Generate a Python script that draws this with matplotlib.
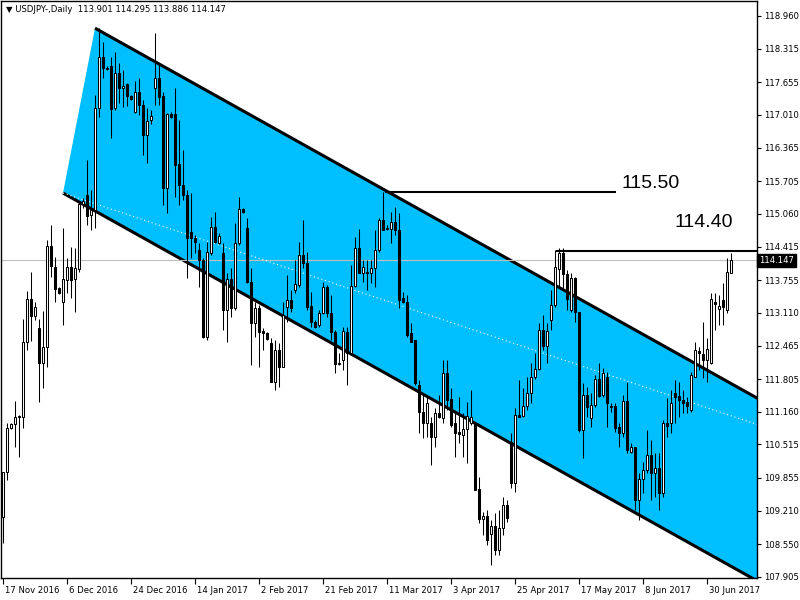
import matplotlib
matplotlib.use('Agg')
import matplotlib.pyplot as plt
from matplotlib.patches import Polygon
from matplotlib.transforms import blended_transform_factory, offset_copy
import numpy as np

# ---------------- data (USDJPY daily) ----------------
opens = [
    109.09, 109.97, 110.84, 110.92, 111.06, 111.06, 112.53, 113.38, 113.05, 112.81,
    112.12, 112.44, 114.43, 114.01, 113.60, 113.32, 113.76, 114.01, 113.78, 113.97,
    115.25, 115.43, 115.04, 115.14, 117.15, 118.15, 117.94, 117.97, 117.15, 117.84,
    117.54, 117.62, 117.38, 117.07, 117.46, 117.21, 116.61, 116.91, 117.54, 117.74,
    117.38, 115.57, 117.03, 117.03, 116.04, 115.63, 115.43, 114.70, 114.58, 114.35,
    114.15, 112.63, 114.29, 114.80, 114.49, 114.29, 113.16, 113.78, 113.20, 114.49,
    115.16, 114.78, 113.72, 112.91, 113.20, 112.75, 112.71, 112.51, 111.75, 112.38,
    112.04, 113.22, 113.36, 113.56, 113.66, 114.25, 114.09, 113.24, 112.93, 112.87,
    113.11, 113.62, 113.11, 112.73, 112.12, 112.18, 112.73, 112.32, 113.64, 114.39,
    113.89, 113.91, 113.89, 113.99, 114.35, 114.94, 114.76, 114.76, 114.90, 114.74,
    113.40, 113.32, 112.71, 112.57, 111.69, 111.15, 110.94, 110.94, 110.66, 111.13,
    111.04, 111.92, 111.41, 110.94, 110.76, 110.70, 110.82, 110.94, 110.94, 109.64,
    109.05, 109.11, 108.75, 108.91, 108.43, 108.87, 109.32, 110.56, 109.76, 111.10,
    111.08, 111.27, 111.53, 111.84, 112.00, 112.77, 112.46, 112.97, 113.26, 113.97,
    114.29, 113.87, 113.16, 113.80, 113.13, 110.80, 111.49, 111.04, 111.29, 111.80,
    111.49, 111.84, 111.27, 111.27, 110.86, 110.74, 111.37, 110.37, 110.46, 109.42,
    109.83, 110.01, 110.31, 109.95, 110.05, 109.56, 110.94, 110.94, 111.53, 111.47,
    111.39, 111.35, 111.19, 111.84, 112.36, 112.30, 112.18, 112.12, 113.32, 113.18,
    113.36, 113.16, 113.901,
]
highs = [
    109.97, 110.94, 110.94, 111.37, 111.10, 112.99, 113.54, 113.91, 113.32, 112.99,
    113.15, 114.54, 114.84, 114.21, 113.62, 114.78, 114.19, 114.41, 114.39, 115.27,
    115.37, 116.12, 115.53, 117.40, 118.72, 118.45, 117.97, 118.15, 118.25, 118.03,
    117.90, 117.64, 117.40, 117.68, 117.74, 117.30, 117.15, 117.11, 118.63, 118.03,
    117.46, 117.05, 117.07, 117.54, 116.91, 116.32, 115.53, 115.47, 114.64, 114.49,
    114.19, 114.51, 115.00, 115.10, 114.68, 114.49, 113.89, 113.99, 114.88, 115.39,
    115.17, 114.98, 113.99, 113.32, 113.26, 112.81, 112.73, 112.61, 112.57, 112.51,
    113.32, 113.85, 113.56, 114.15, 114.51, 114.94, 114.31, 113.52, 112.97, 113.16,
    113.72, 113.66, 113.46, 112.77, 112.32, 112.83, 112.83, 114.05, 114.60, 114.76,
    114.15, 114.15, 114.15, 114.74, 114.98, 115.49, 114.84, 115.10, 115.19, 115.08,
    113.52, 113.46, 112.91, 112.57, 111.79, 111.53, 111.45, 111.06, 111.23, 111.49,
    112.18, 112.18, 111.63, 111.13, 111.45, 111.13, 111.35, 111.59, 110.96, 109.87,
    109.18, 109.22, 109.03, 109.16, 109.22, 109.48, 109.42, 110.74, 111.23, 111.79,
    111.63, 111.84, 112.12, 112.32, 112.91, 113.07, 112.91, 113.56, 114.35, 114.39,
    114.39, 113.95, 113.89, 113.82, 113.13, 111.73, 111.65, 111.53, 111.88, 112.12,
    112.02, 111.94, 111.33, 111.33, 110.94, 111.49, 111.75, 110.54, 110.46, 109.95,
    110.17, 110.80, 110.60, 110.35, 110.35, 111.00, 111.43, 111.59, 111.79, 111.75,
    111.59, 111.45, 111.94, 112.53, 112.44, 112.93, 112.61, 113.50, 113.50, 113.46,
    113.70, 114.19, 114.295,
]
lows = [
    108.57, 109.81, 110.82, 110.46, 110.27, 110.84, 112.38, 112.55, 112.97, 111.35,
    111.63, 112.04, 113.82, 113.32, 113.48, 112.87, 113.50, 113.40, 113.13, 113.91,
    115.17, 114.84, 114.74, 114.78, 116.97, 117.74, 117.90, 116.55, 117.11, 117.25,
    117.17, 117.19, 117.30, 117.05, 117.01, 116.22, 116.06, 116.83, 117.21, 117.21,
    115.23, 115.08, 116.95, 115.39, 115.23, 115.33, 113.80, 114.19, 114.29, 113.62,
    112.61, 112.57, 114.25, 114.49, 114.47, 112.77, 112.53, 113.03, 113.16, 114.45,
    115.08, 113.70, 112.08, 112.63, 112.04, 112.38, 112.57, 111.75, 111.59, 111.65,
    112.04, 112.93, 113.13, 113.50, 113.62, 113.99, 113.16, 112.83, 112.81, 112.83,
    113.09, 113.03, 112.57, 111.92, 112.08, 111.98, 111.69, 112.28, 113.62, 113.89,
    113.72, 113.56, 113.70, 113.62, 114.31, 114.74, 114.74, 114.49, 114.64, 113.20,
    113.30, 112.63, 112.53, 111.69, 110.74, 110.64, 110.66, 110.11, 110.46, 111.04,
    110.94, 111.19, 110.86, 110.27, 110.54, 110.27, 110.15, 110.90, 109.62, 108.97,
    108.73, 108.53, 108.14, 108.34, 108.34, 108.73, 108.99, 109.66, 109.58, 111.06,
    111.06, 111.19, 111.33, 111.80, 111.98, 112.38, 112.12, 112.77, 113.22, 113.60,
    113.56, 113.16, 113.13, 112.93, 110.76, 110.25, 111.06, 110.86, 111.25, 111.45,
    111.45, 110.86, 111.15, 110.76, 110.46, 110.66, 110.35, 110.35, 109.22, 109.03,
    109.56, 109.95, 109.42, 109.48, 109.22, 109.48, 110.66, 110.74, 110.94, 111.06,
    111.13, 111.13, 111.15, 111.84, 111.98, 111.82, 111.75, 112.10, 112.77, 112.87,
    112.87, 113.11, 113.886,
]
closes = [
    109.97, 110.84, 110.92, 111.06, 111.08, 112.53, 113.38, 113.05, 113.22, 112.12,
    112.44, 114.43, 114.03, 113.58, 113.50, 113.78, 114.01, 113.76, 113.99, 115.25,
    115.31, 115.02, 115.14, 117.15, 118.15, 117.94, 117.92, 117.13, 117.84, 117.54,
    117.58, 117.38, 117.32, 117.46, 117.21, 116.61, 116.89, 116.99, 117.74, 117.36,
    115.57, 117.03, 116.97, 116.02, 115.63, 115.43, 114.58, 114.58, 114.51, 114.15,
    112.63, 114.31, 114.80, 114.51, 114.62, 113.16, 113.78, 113.20, 114.49, 115.16,
    115.10, 113.72, 112.91, 113.20, 112.73, 112.71, 112.59, 111.75, 112.38, 112.04,
    113.07, 113.36, 113.20, 113.68, 114.25, 114.09, 113.22, 112.93, 112.83, 113.11,
    113.62, 113.11, 112.73, 112.10, 112.10, 112.75, 112.32, 113.64, 114.39, 113.89,
    114.01, 113.89, 113.99, 114.35, 114.94, 114.74, 114.78, 114.90, 114.74, 113.36,
    113.32, 112.67, 112.53, 111.73, 111.15, 110.94, 111.33, 110.66, 111.13, 111.06,
    111.92, 111.39, 110.90, 110.74, 110.72, 110.82, 111.08, 111.06, 109.62, 109.05,
    109.11, 108.63, 108.91, 108.43, 108.87, 109.32, 109.07, 109.76, 111.10, 111.06,
    111.27, 111.53, 111.84, 112.00, 112.77, 112.46, 112.75, 113.26, 114.01, 114.29,
    113.87, 113.38, 113.80, 113.13, 110.80, 111.49, 111.25, 111.29, 111.80, 111.47,
    111.92, 111.33, 111.25, 110.84, 110.74, 111.37, 110.41, 110.46, 109.42, 109.83,
    110.01, 110.31, 109.95, 110.05, 109.56, 110.94, 110.88, 111.33, 111.45, 111.39,
    111.33, 111.27, 111.88, 112.38, 112.32, 112.18, 112.40, 113.38, 113.28, 113.24,
    113.22, 113.91, 114.147,
]

date_labels = ['17 Nov 2016', '6 Dec 2016', '24 Dec 2016', '14 Jan 2017', '2 Feb 2017',
               '21 Feb 2017', '11 Mar 2017', '3 Apr 2017', '25 Apr 2017', '17 May 2017',
               '8 Jun 2017', '30 Jun 2017']
date_label_bars = [0, 16, 32, 48, 64, 80, 96, 112, 128, 144, 160, 176]
price_ticks = [118.960, 118.315, 117.655, 117.010, 116.365, 115.705, 115.060, 114.415,
               113.755, 113.110, 112.465, 111.805, 111.160, 110.515, 109.855, 109.210,
               108.550, 107.905]

header = '\u25BC USDJPY-,Daily  113.901 114.295 113.886 114.147'
bid_price = 114.147

# channel (drawing object)
channel_lower_start = (15, 115.47)
channel_upper_start = (23, 118.72)
channel_upper_end = (188.5, 111.43)
mid_line_end = (188.5, 110.91)

# horizontal level lines and their labels
level1_price, level1_span, level1_text, level1_text_pos = 115.50, (95.5, 153.25), '115.50', (154.7, 115.66)
level2_price, level2_span, level2_text, level2_text_pos = 114.33, (138.25, 188.5), '114.40', (167.9, 114.88)

# ---------------- figure ----------------
W, H = 800, 600
fig = plt.figure(figsize=(W / 100, H / 100), dpi=100)
fig.patch.set_facecolor('white')
ax = fig.add_axes([1 / W, 22 / H, 756 / W, 577 / H])
ax.set_facecolor('white')
ax.set_xlim(-0.5, 188.5)
ax.set_ylim(107.883, 119.255)

# channel fill and lines
slope = (channel_upper_end[1] - channel_upper_start[1]) / (channel_upper_end[0] - channel_upper_start[0])
xr = 200.0
up_r = channel_upper_start[1] + slope * (xr - channel_upper_start[0])
lo_r = channel_lower_start[1] + slope * (xr - channel_lower_start[0])
poly = Polygon([channel_lower_start, channel_upper_start, (xr, up_r), (xr, lo_r)],
               closed=True, facecolor='#00BFFF', edgecolor='none', zorder=1)
ax.add_patch(poly)
ax.plot([channel_upper_start[0], xr], [channel_upper_start[1], up_r], color='black', lw=2.2,
        zorder=2, solid_capstyle='butt')
ax.plot([channel_lower_start[0], xr], [channel_lower_start[1], lo_r], color='black', lw=2.2,
        zorder=2, solid_capstyle='butt')
ax.plot([channel_lower_start[0], mid_line_end[0]], [channel_lower_start[1], mid_line_end[1]],
        color='white', lw=0.8, linestyle=(0, (1, 2.5)), zorder=2.5)

# bid line
ax.axhline(bid_price, color='#C0C0C0', lw=0.8, zorder=2.2)

# level lines
ax.hlines(level1_price, *level1_span, color='black', lw=1.5, zorder=6)
ax.hlines(level2_price, *level2_span, color='black', lw=1.5, zorder=6)
ax.text(*level1_text_pos, level1_text, fontsize=14, family='Liberation Sans',
        ha='left', va='center', zorder=7)
ax.text(*level2_text_pos, level2_text, fontsize=14, family='Liberation Sans',
        ha='left', va='center', zorder=7)

# candles
o = np.array(opens); h = np.array(highs); l = np.array(lows); c = np.array(closes)
x = np.arange(len(o))
ax.vlines(x, l, h, color='black', lw=0.75, zorder=4)
up = c >= o
bb = np.minimum(o, c)
bh = np.maximum(np.abs(c - o), 0.012)
ax.bar(x[up], bh[up], bottom=bb[up], width=0.5, color='white', edgecolor='black', lw=0.75, zorder=5)
ax.bar(x[~up], bh[~up], bottom=bb[~up], width=0.5, color='black', edgecolor='black', lw=0.75, zorder=5)

# axes styling
for s in ax.spines.values():
    s.set_color('black'); s.set_linewidth(1.0)
ax.yaxis.tick_right()
ax.set_yticks(price_ticks)
ax.set_yticklabels(['%.3f' % v for v in price_ticks])
ax.tick_params(axis='y', direction='out', length=3, width=0.8, pad=2, labelsize=6.1, colors='black')
ax.set_xticks(date_label_bars)
ax.set_xticklabels(date_labels, ha='left')
ax.tick_params(axis='x', direction='out', length=4, width=0.8, pad=1.5, labelsize=6.1, colors='black')
for lab in ax.get_xticklabels():
    lab.set_transform(offset_copy(lab.get_transform(), fig=fig, x=1.2, y=0, units='points'))

# current price box
tr = blended_transform_factory(ax.transAxes, ax.transData)
ax.text(1.003, bid_price, '%.3f' % bid_price, transform=tr, fontsize=6.1, color='white',
        ha='left', va='center', clip_on=False, zorder=10,
        bbox=dict(boxstyle='square,pad=0.25', facecolor='black', edgecolor='black'))

# header
fig.text(6 / W, 1 - 10 / H, header, fontsize=6.1, ha='left', va='center',
         family=['DejaVu Sans'])

fig.savefig('out.png', dpi=100)
